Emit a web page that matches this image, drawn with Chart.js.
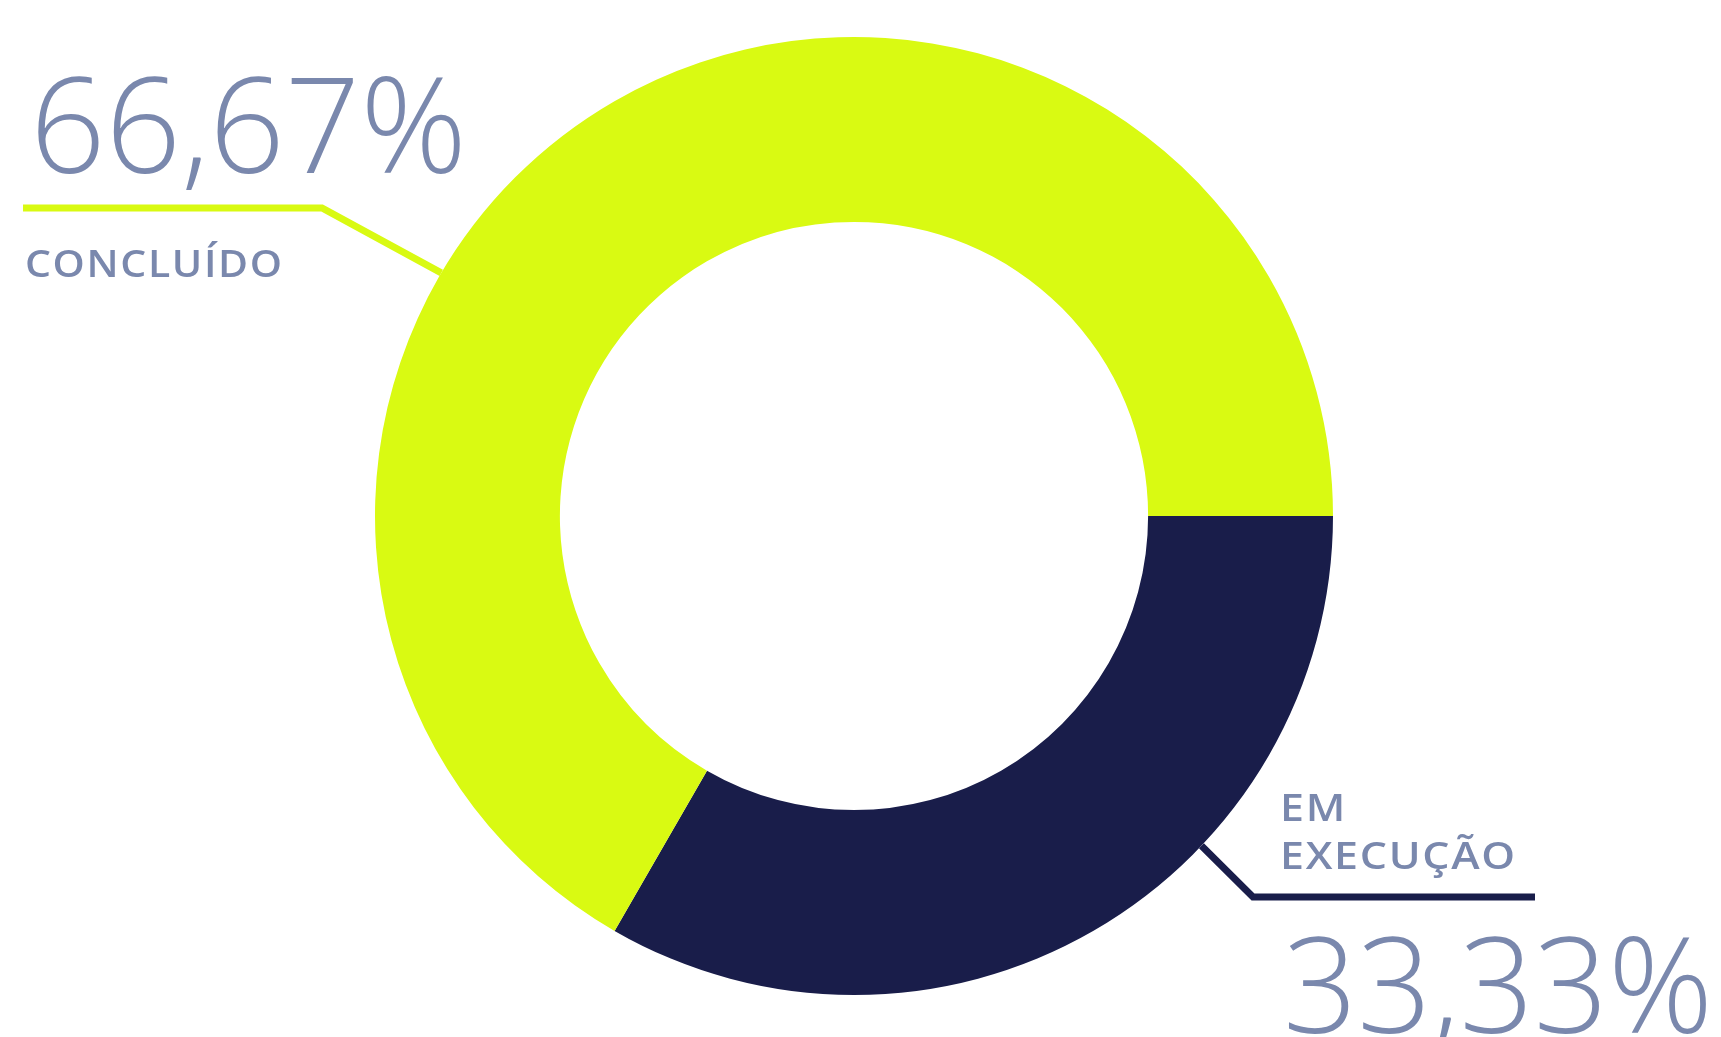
<!DOCTYPE html>
<html lang="pt-BR">
<head>
    <meta charset="UTF-8">
    <title>Status das obras</title>
    <script src="https://cdn.jsdelivr.net/npm/chart.js"></script>
    <style>
        html, body {
            margin: 0;
            padding: 0;
            background: #ffffff;
            overflow: hidden;
        }
        .chart-box {
            position: relative;
            width: 1721px;
            height: 1037px;
        }
    </style>
</head>
<body>
    <div class="chart-box">
        <canvas id="statusChart"></canvas>
    </div>

    <script>
    // Status split, in percent
    const labels = [['EM', 'EXECUÇÃO'], ['CONCLUÍDO']];
    const values = [33.33, 66.67];
    const colors = ['#191d4a', '#d9fa12'];

    const textColor = '#7a88ad';
    const fontFamily = '"Open Sans", Lato, sans-serif';

    // Leader line + text placement for each slice
    const callouts = [
        {
            angle: 43.5,                 // point on the outer edge, degrees clockwise from 3 o'clock
            elbow: [1253, 897],
            end: [1535, 897],
            labelX: 1280, labelBaselines: [821, 869], labelWidth: 235,
            valueX: 1283, valueBaseline: 1033, valueWidth: 430
        },
        {
            angle: 210.5,
            elbow: [322, 208],
            end: [23, 208],
            labelX: 25, labelBaselines: [277], labelWidth: 257,
            valueX: 30, valueBaseline: 173, valueWidth: 437
        }
    ];

    function fmtPercent(v) {
        return v.toFixed(2).replace('.', ',') + '%';
    }

    // draws text with a horizontal stretch so it spans the given width
    function drawStretched(ctx, text, x, y, font, spacing, scaleX) {
        ctx.save();
        ctx.font = font;
        ctx.letterSpacing = spacing + 'px';
        ctx.translate(x, y);
        ctx.scale(scaleX, 1);
        ctx.fillText(text, 0, 0);
        ctx.restore();
    }

    function widthOf(ctx, text, font, spacing) {
        ctx.save();
        ctx.font = font;
        ctx.letterSpacing = spacing + 'px';
        const w = ctx.measureText(text).width;
        ctx.restore();
        return w;
    }

    const calloutPlugin = {
        id: 'callouts',
        afterDatasetsDraw(chart) {
            const ctx = chart.ctx;
            const meta = chart.getDatasetMeta(0);
            const data = chart.data.datasets[0].data;

            meta.data.forEach((arc, i) => {
                const c = callouts[i];
                if (!c) return;
                const a = c.angle * Math.PI / 180;
                const r = arc.outerRadius;
                const ax = arc.x + r * Math.cos(a);
                const ay = arc.y + r * Math.sin(a);

                // leader line
                ctx.save();
                ctx.strokeStyle = colors[i];
                ctx.lineWidth = 7;
                ctx.lineJoin = 'miter';
                ctx.beginPath();
                ctx.moveTo(ax, ay);
                ctx.lineTo(c.elbow[0], c.elbow[1]);
                ctx.lineTo(c.end[0], c.end[1]);
                ctx.stroke();
                ctx.restore();

                ctx.save();
                ctx.fillStyle = textColor;
                ctx.textBaseline = 'alphabetic';
                ctx.textAlign = 'left';

                // big percentage
                const valueText = fmtPercent(data[i]);
                const bigFont = '300 133px ' + fontFamily;
                const bw = widthOf(ctx, valueText, bigFont, 0);
                drawStretched(ctx, valueText, c.valueX, c.valueBaseline, bigFont, 0, c.valueWidth / bw);

                // category name, one line per entry
                const lines = chart.data.labels[i];
                const smallFont = '600 38px ' + fontFamily;
                const spacing = 1.5;
                const longest = lines.reduce((m, l) => Math.max(m, widthOf(ctx, l, smallFont, spacing) - spacing), 0);
                const sx = c.labelWidth / longest;
                lines.forEach((line, k) => {
                    drawStretched(ctx, line, c.labelX, c.labelBaselines[k], smallFont, spacing, sx);
                });
                ctx.restore();
            });
        }
    };

    async function build() {
        try {
            await Promise.all([
                document.fonts.load('300 133px "Open Sans"'),
                document.fonts.load('600 38px "Open Sans"')
            ]);
        } catch (e) {
            console.error('Font load failed:', e);
        }

        const ctx = document.getElementById('statusChart').getContext('2d');
        new Chart(ctx, {
            type: 'doughnut',
            data: {
                labels: labels,
                datasets: [{
                    data: values,
                    backgroundColor: colors,
                    borderWidth: 0,
                    hoverOffset: 0
                }]
            },
            options: {
                responsive: true,
                maintainAspectRatio: false,
                animation: false,
                rotation: 90,
                cutout: '61.4%',
                layout: {
                    padding: { top: 37, bottom: 42, left: 0, right: 13 }
                },
                plugins: {
                    legend: { display: false },
                    tooltip: { enabled: false }
                }
            },
            plugins: [calloutPlugin]
        });
    }

    build();
    </script>
</body>
</html>
